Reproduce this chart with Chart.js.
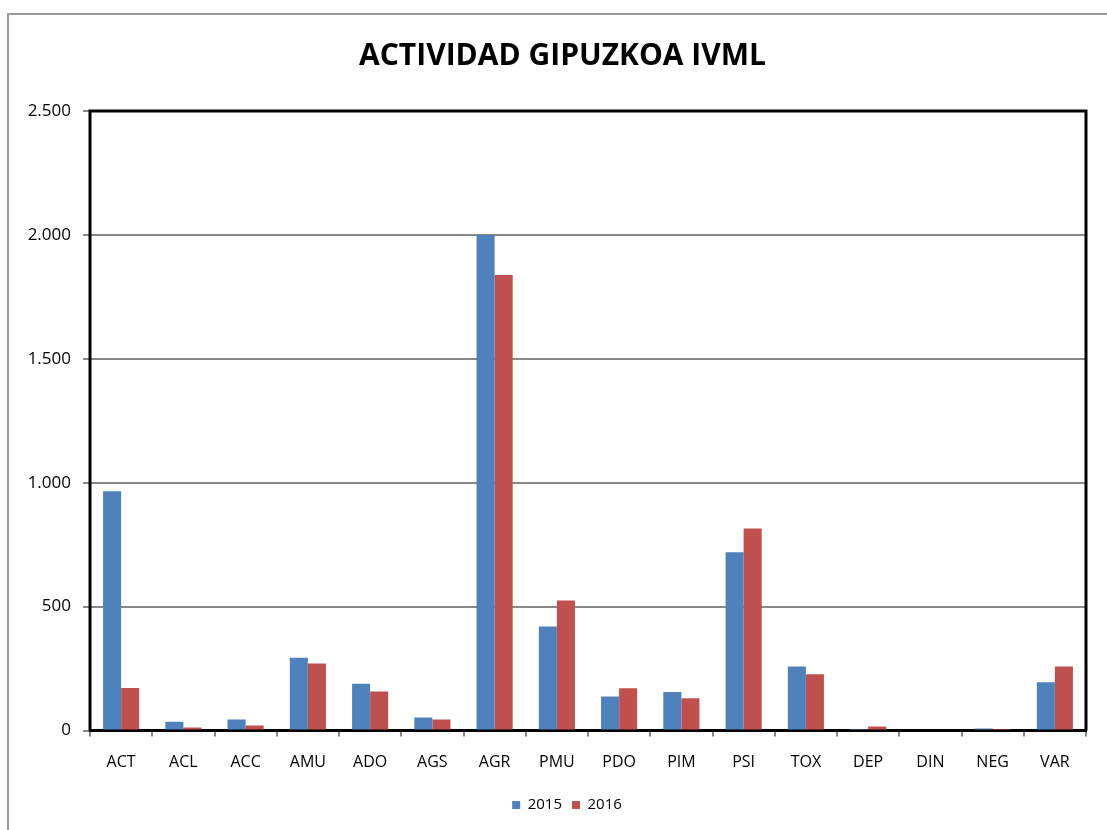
<!DOCTYPE html>
<html>
<head>
<meta charset="utf-8">
<script src="https://cdn.jsdelivr.net/npm/chart.js@4/dist/chart.umd.min.js"></script>
<style>
  html, body { margin: 0; padding: 0; background: #fff; }
  #wrap { position: relative; width: 1107px; height: 830px; overflow: hidden; }
  #frame { position: absolute; left: 7px; top: 13px; width: 1130px; height: 850px; border: 2px solid #999; box-sizing: border-box; }
  #c { position: absolute; left: 0; top: 0; }
</style>
</head>
<body>
<div id="wrap">
  <div id="frame"></div>
  <canvas id="c" width="1107" height="830"></canvas>
</div>
<script>
const categories = ['ACT','ACL','ACC','AMU','ADO','AGS','AGR','PMU','PDO','PIM','PSI','TOX','DEP','DIN','NEG','VAR'];
const values2015 = [965, 35, 44, 294, 189, 52, 2000, 420, 137, 155, 719, 258, 2, 0, 8, 195];
const values2016 = [172, 12, 20, 270, 157, 44, 1838, 525, 170, 130, 815, 227, 16, 0, 2, 258];
const yTicks = [0, 500, 1000, 1500, 2000, 2500];
const titleText = 'ACTIVIDAD GIPUZKOA IVML';

const fmt = v => v.toLocaleString('de-DE');

const borderPlugin = {
  id: 'plotBorder',
  afterDatasetsDraw(chart) {
    const a = chart.chartArea, ctx = chart.ctx;
    ctx.save();
    ctx.strokeStyle = '#000';
    ctx.lineWidth = 3;
    ctx.beginPath();
    ctx.moveTo(a.left, a.bottom);
    ctx.lineTo(a.left, a.top);
    ctx.lineTo(a.right, a.top);
    ctx.lineTo(a.right, a.bottom);
    ctx.stroke();
    ctx.restore();
  }
};

// Centre title and legend on the outer frame rather than the canvas box
const shiftPlugin = {
  id: 'shiftBlocks',
  afterLayout(chart) {
    if (chart.titleBlock) { chart.titleBlock.left += 19.5; chart.titleBlock.right += 19.5; }
    if (chart.legend) { chart.legend.left += 24; chart.legend.right += 24; }
  }
};

new Chart(document.getElementById('c'), {
  type: 'bar',
  data: {
    labels: categories,
    datasets: [
      { label: '2015', data: values2015, backgroundColor: '#4F81BD', borderWidth: 0, categoryPercentage: 0.58, barPercentage: 1.0 },
      { label: '2016', data: values2016, backgroundColor: '#C0504D', borderWidth: 0, categoryPercentage: 0.58, barPercentage: 1.0 }
    ]
  },
  options: {
    responsive: false,
    animation: false,
    devicePixelRatio: 1,
    layout: { padding: { left: 0, right: 21, top: 0, bottom: 7.5 } },
    plugins: {
      title: {
        display: true,
        text: titleText,
        color: '#000',
        font: { family: 'Open Sans', size: 30, weight: 'bold' },
        padding: { top: 38, bottom: 37 }
      },
      legend: {
        display: true,
        position: 'bottom',
        labels: {
          boxWidth: 8, boxHeight: 8, color: '#000',
          font: { family: 'Open Sans', size: 15 },
          padding: 10
        }
      },
      tooltip: { enabled: false }
    },
    scales: {
      x: {
        afterFit: s => { s.height = 57; },
        grid: { display: true, offset: true, drawOnChartArea: false, drawTicks: true, tickLength: 6, color: '#888', lineWidth: 2 },
        border: { display: true, color: '#000', width: 3 },
        ticks: { color: '#000', font: { family: 'Open Sans', size: 16 }, padding: 16, maxRotation: 0 }
      },
      y: {
        min: 0, max: 2500,
        afterBuildTicks: s => { s.ticks = yTicks.map(v => ({ value: v })); },
        afterFit: s => { s.width = 90; },
        grid: { display: true, color: '#888', lineWidth: 2, drawTicks: true, tickLength: 7 },
        border: { display: false },
        ticks: { color: '#000', font: { family: 'Open Sans', size: 17 }, padding: 12, callback: v => fmt(v) }
      }
    }
  },
  plugins: [borderPlugin, shiftPlugin]
});
</script>
</body>
</html>
